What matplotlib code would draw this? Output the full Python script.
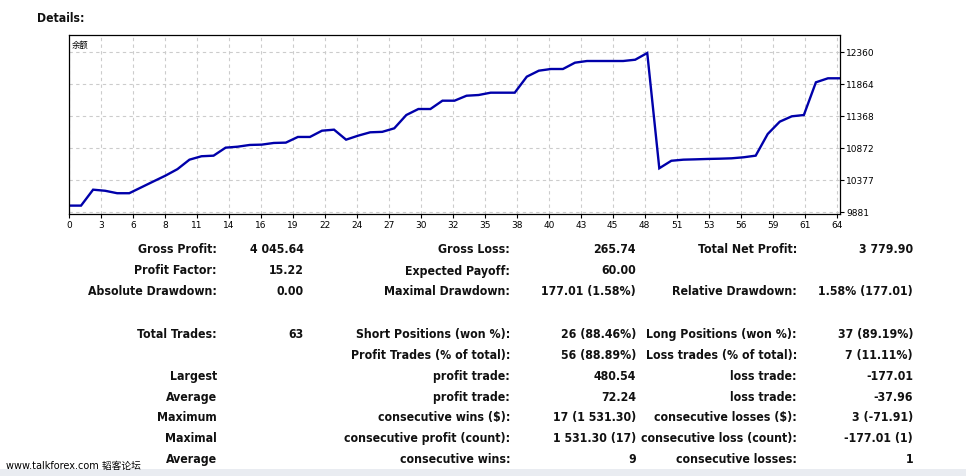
import numpy as np
import matplotlib.pyplot as plt
from matplotlib.patches import Rectangle

# balance curve (one value per trade index)
balance = [9975, 9975, 10222, 10205, 10167, 10167, 10258, 10349, 10439, 10540,
           10687, 10740, 10749, 10873, 10888, 10915, 10920, 10946, 10951, 11039,
           11039, 11136, 11152, 10997, 11059, 11111, 11118, 11173, 11379, 11472,
           11472, 11601, 11601, 11678, 11689, 11725, 11725, 11725, 11973, 12066,
           12092, 12092, 12190, 12216, 12216, 12216, 12216, 12236, 12340, 10554,
           10670, 10687, 10692, 10698, 10702, 10708, 10724, 10749, 11085, 11276,
           11359, 11379, 11886, 11948, 11948]

x_labels = ["0", "3", "6", "8", "11", "14", "16", "19", "22", "24", "27", "30", "32",
            "35", "38", "40", "43", "45", "48", "51", "53", "56", "59", "61", "64"]
y_ticks = [9881, 10377, 10872, 11368, 11864, 12360]

# statistics table rows: (label1, value1, label2, value2, label3, value3)
rows = [
    ("Gross Profit:", "4 045.64", "Gross Loss:", "265.74", "Total Net Profit:", "3 779.90"),
    ("Profit Factor:", "15.22", "Expected Payoff:", "60.00", "", ""),
    ("Absolute Drawdown:", "0.00", "Maximal Drawdown:", "177.01 (1.58%)", "Relative Drawdown:", "1.58% (177.01)"),
    ("", "", "", "", "", ""),
    ("Total Trades:", "63", "Short Positions (won %):", "26 (88.46%)", "Long Positions (won %):", "37 (89.19%)"),
    ("", "", "Profit Trades (% of total):", "56 (88.89%)", "Loss trades (% of total):", "7 (11.11%)"),
    ("Largest", "", "profit trade:", "480.54", "loss trade:", "-177.01"),
    ("Average", "", "profit trade:", "72.24", "loss trade:", "-37.96"),
    ("Maximum", "", "consecutive wins ($):", "17 (1 531.30)", "consecutive losses ($):", "3 (-71.91)"),
    ("Maximal", "", "consecutive profit (count):", "1 531.30 (17)", "consecutive loss (count):", "-177.01 (1)"),
    ("Average", "", "consecutive wins:", "9", "consecutive losses:", "1"),
]

W, H = 966, 477
fig = plt.figure(figsize=(W / 100, H / 100), dpi=100)
fig.patch.set_facecolor("white")


def fx(px):
    return px / W


def fy(py):
    return 1 - py / H


ax = fig.add_axes([fx(69), fy(215), fx(840) - fx(69), fy(36) - fy(215)])
x = np.arange(len(balance))
ax.plot(x, balance, color="#0000aa", lw=1.7, solid_joinstyle="miter")

ax.set_xlim(0, len(balance) - 1)
ax.set_ylim(9845, 12619)
ax.set_xticks(np.arange(len(x_labels)) * 2.655)
ax.set_xticklabels(x_labels)
ax.set_yticks(y_ticks)
ax.set_yticklabels([str(v) for v in y_ticks])
ax.yaxis.tick_right()
ax.tick_params(axis="both", labelsize=6.5, length=3, width=0.8, color="black", pad=1.5)
ax.grid(True, color="#cccccc", linestyle=(0, (3, 3)), lw=0.8)
for s in ax.spines.values():
    s.set_linewidth(0.9)
    s.set_color("black")

ax.text(0.004, 0.975, "余额", transform=ax.transAxes, ha="left", va="top",
        fontsize=6, family=["Noto Sans CJK SC", "DejaVu Sans"])

fig.text(fx(37), fy(22), "Details:", ha="left", va="baseline", fontsize=8.7,
         fontweight="bold", fontstretch="condensed", color="#111111")

# table
col_x = [217, 304, 510, 636, 797, 913]
for r, row in enumerate(rows):
    yy = fy(253.5 + 21 * r if r < 4 else 338.3 + 20.8 * (r - 4))
    for c, txt in enumerate(row):
        if txt:
            fig.text(fx(col_x[c]), yy, txt, ha="right", va="baseline", fontsize=8.8,
                     fontweight="bold", fontstretch="condensed", color="#111111")

# bottom bar and watermark
fig.patches.append(Rectangle((0, 0), 1, fy(470), transform=fig.transFigure,
                             facecolor="#e9ecf1", edgecolor="none"))
fig.text(fx(6), fy(466), "www.talkforex.com 韬客论坛", ha="left", va="center",
         fontsize=7, family=["DejaVu Sans", "Noto Sans CJK SC"])

fig.savefig("out.png", dpi=100)
